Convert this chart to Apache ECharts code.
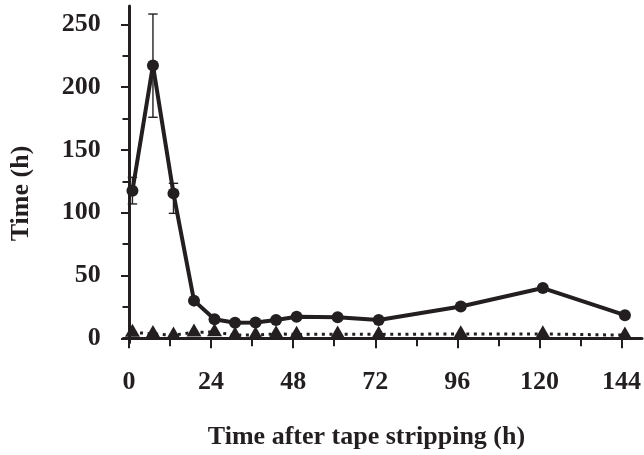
<!DOCTYPE html>
<html>
<head>
<meta charset="utf-8">
<script src="https://cdn.jsdelivr.net/npm/echarts@6/dist/echarts.min.js"></script>
<style>
  html, body { margin: 0; padding: 0; background: #ffffff; }
  #chart { width: 644px; height: 455px; }
</style>
</head>
<body>
<div id="chart"></div>
<script>
// Sampling times (h) after tape stripping
const hours = [1, 7, 13, 19, 25, 31, 37, 43, 49, 61, 73, 97, 121, 145];

// Solid line with circles
const circleValues = [117.5, 217.3, 115.4, 30, 15.1, 12.4, 12.6, 14.6, 17.2, 16.8, 14.6, 25.3, 40, 18.4];

// Dotted line with triangles
const triangleValues = [4.7, 3.6, 2.5, 4.8, 5.0, 2.5, 2.7, 3.5, 3.1, 3.3, 3.1, 3.5, 3.5, 2.5];

// Error bars on the circle series
const errorHours = [1, 7, 13, 121];
const errorLow = [107, 176, 99.5, 38];
const errorHigh = [128.2, 258.2, 123.4, 42];

// Ticks and labels
const xMajorTicks = [0, 24, 48, 72, 96, 120, 144];
const xMinorTicks = [12, 36, 60, 84, 108, 132];
const yMajorTicks = [0, 50, 100, 150, 200, 250];
const yMinorTicks = [25, 75, 125, 175, 225];

const xTitle = 'Time after tape stripping (h)';
const yTitle = 'Time (h)';

const INK = '#231f20';
const FONT = 'Liberation Serif, Times New Roman, serif';

const xRange = { min: -1.67, max: 150 };
const yRange = { min: -3.34, max: 264.6 };

const chart = echarts.init(document.getElementById('chart'), null, { renderer: 'canvas' });

const labelStyle = { color: INK, fontFamily: FONT, fontWeight: 'bold', fontSize: 26 };

chart.setOption({
  animation: false,
  backgroundColor: '#ffffff',
  grid: { left: 123.3, right: 1.5, top: 6, bottom: 112.5, containLabel: false },
  xAxis: [
    {
      type: 'value', min: xRange.min, max: xRange.max, position: 'bottom',
      axisLine: { show: true, lineStyle: { color: INK, width: 3 } },
      axisTick: { show: true, customValues: xMajorTicks, length: 10, lineStyle: { color: INK, width: 2 } },
      axisLabel: { show: true, customValues: xMajorTicks, margin: 27, ...labelStyle },
      splitLine: { show: false }
    },
    {
      type: 'value', min: xRange.min, max: xRange.max, position: 'bottom',
      axisLine: { show: false },
      axisTick: { show: true, customValues: xMinorTicks, length: 8, lineStyle: { color: INK, width: 2 } },
      axisLabel: { show: false },
      splitLine: { show: false }
    }
  ],
  yAxis: [
    {
      type: 'value', min: yRange.min, max: yRange.max, position: 'left',
      axisLine: { show: true, lineStyle: { color: INK, width: 3 } },
      axisTick: { show: true, customValues: yMajorTicks, length: 8, lineStyle: { color: INK, width: 2 } },
      axisLabel: { show: true, customValues: yMajorTicks, margin: 22.6, ...labelStyle },
      splitLine: { show: false }
    },
    {
      type: 'value', min: yRange.min, max: yRange.max, position: 'left',
      axisLine: { show: false },
      axisTick: { show: true, customValues: yMinorTicks, length: 6.5, lineStyle: { color: INK, width: 2 } },
      axisLabel: { show: false },
      splitLine: { show: false }
    }
  ],
  graphic: [
    {
      type: 'text', x: 366.5, y: 437.5, silent: true,
      style: { text: xTitle, fill: INK, font: 'bold 26px ' + FONT, align: 'center', verticalAlign: 'middle' }
    },
    {
      type: 'text', x: 21.7, y: 193.5, rotation: Math.PI / 2, silent: true,
      style: { text: yTitle, fill: INK, font: 'bold 26px ' + FONT, align: 'center', verticalAlign: 'middle' }
    }
  ],
  series: [
    {
      name: 'triangles', type: 'line', xAxisIndex: 0, yAxisIndex: 0,
      data: hours.map((h, i) => [h, triangleValues[i]]),
      symbol: 'triangle', symbolSize: [15, 13], symbolOffset: [0, -2.2],
      lineStyle: { color: INK, width: 3, type: [3, 4.6] },
      itemStyle: { color: INK, borderWidth: 0 },
      z: 3
    },
    {
      name: 'errors', type: 'custom', xAxisIndex: 0, yAxisIndex: 0,
      data: errorHours.map((h, i) => [h, errorLow[i], errorHigh[i]]),
      renderItem: function (params, api) {
        const lo = api.coord([api.value(0), api.value(1)]);
        const hi = api.coord([api.value(0), api.value(2)]);
        const half = 4.7;
        const style = { stroke: INK, lineWidth: 1.4, fill: null };
        return {
          type: 'group',
          children: [
            { type: 'line', shape: { x1: lo[0], y1: lo[1], x2: hi[0], y2: hi[1] }, style },
            { type: 'line', shape: { x1: lo[0] - half, y1: lo[1], x2: lo[0] + half, y2: lo[1] }, style },
            { type: 'line', shape: { x1: hi[0] - half, y1: hi[1], x2: hi[0] + half, y2: hi[1] }, style }
          ]
        };
      },
      z: 4
    },
    {
      name: 'circles', type: 'line', xAxisIndex: 0, yAxisIndex: 0,
      data: hours.map((h, i) => [h, circleValues[i]]),
      symbol: 'circle', symbolSize: 12,
      lineStyle: { color: INK, width: 4 },
      itemStyle: { color: INK, borderWidth: 0 },
      z: 5
    }
  ]
});
</script>
</body>
</html>
